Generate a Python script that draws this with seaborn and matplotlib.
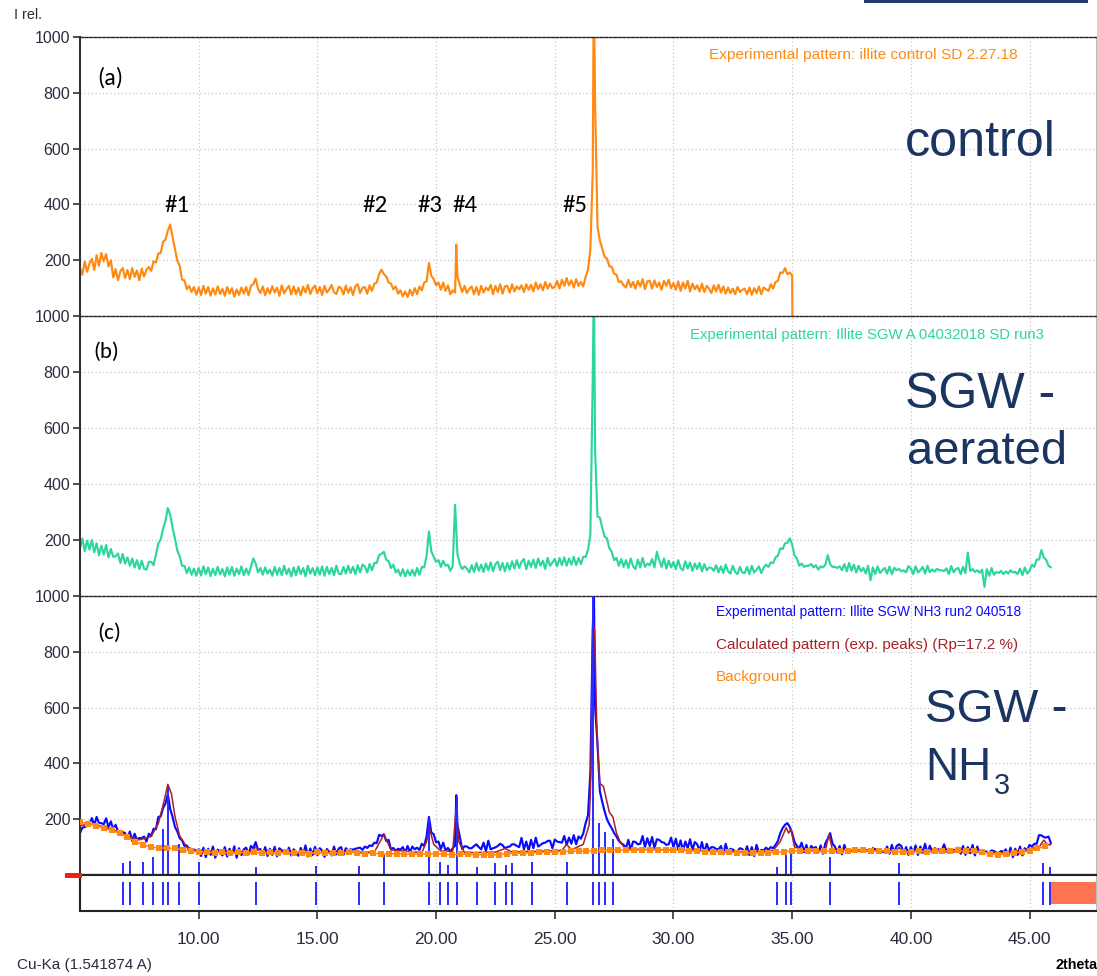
import numpy as np
import pandas as pd
import matplotlib
matplotlib.use("Agg")
import matplotlib.pyplot as plt
from matplotlib import font_manager as fm
from matplotlib.patches import Rectangle
import seaborn as sns

# ---------------- data ----------------
x_ticks = [10, 15, 20, 25, 30, 35, 40, 45]
x_tick_labels = ["10.00", "15.00", "20.00", "25.00", "30.00", "35.00", "40.00", "45.00"]
y_ticks = [200, 400, 600, 800, 1000]

# (a) control, sampled every 0.1 deg from 5.0 to 35.0
a_int = [
    172,148,195,158,188,205,165,218,180,226,
    196,222,178,200,138,168,128,160,172,136,
    165,132,172,140,163,128,170,142,166,176,
    162,196,192,224,226,266,274,306,328,282,
    240,198,180,130,128,96,108,86,104,76,
    102,75,108,80,104,73,99,77,106,79,
    97,72,104,80,100,69,95,76,102,80,
    104,74,108,114,134,98,82,106,74,100,
    80,107,84,102,72,110,81,97,108,77,
    106,78,101,74,105,84,112,79,99,109,
    81,104,75,108,84,96,111,85,79,105,
    100,77,109,83,103,75,107,114,82,101,
    104,80,110,90,116,120,150,166,150,142,
    120,116,96,106,80,92,70,88,68,94,
    74,100,78,106,92,120,124,190,144,132,
    110,120,94,120,90,110,78,92,84,140,
    112,86,108,82,98,106,78,104,76,108,
    84,102,92,112,78,108,86,114,80,106,
    108,84,114,88,106,96,110,86,114,94,
    112,88,120,96,114,92,122,98,116,100,
    104,126,98,130,108,136,110,128,102,132,
    108,122,106,140,166,238,520,760,320,270,
    242,212,206,178,176,152,148,122,124,110,
    102,130,104,122,98,126,106,132,96,124,
    126,98,128,104,120,94,126,108,130,100,
    118,94,124,90,120,98,126,88,116,96,
    110,88,116,86,108,98,82,110,88,112,
    84,106,80,102,82,98,78,104,86,94,
    98,78,102,76,100,82,106,78,102,96,
    90,114,98,122,126,156,154,172,150,156,
    145,
]
a_peak_x = [20.85, 26.63, 26.67, 35.01]
a_peak_y = [256, 1000, 1000, 0]

# (b) SGW aerated, every 0.1 deg from 5.0 to 45.9
b_int = [
    170,205,160,198,166,200,156,188,145,180,
    148,182,138,168,140,142,152,118,150,116,
    138,108,134,102,128,96,126,98,94,122,
    122,110,148,188,202,240,268,314,290,244,
    205,162,142,108,108,82,102,76,98,72,
    100,73,106,78,102,71,97,75,104,77,
    96,70,102,76,104,72,98,78,106,74,
    98,76,104,134,116,84,100,76,102,80,
    94,72,104,76,100,74,108,78,98,70,
    102,74,106,78,100,70,108,80,100,74,
    102,76,106,72,104,78,100,74,108,80,
    78,104,80,108,82,104,78,110,84,112,
    106,84,114,92,118,118,146,150,158,130,
    124,100,112,84,94,72,96,70,92,74,
    94,72,100,76,104,102,144,230,160,140,
    122,128,104,126,108,112,90,106,326,150,
    114,96,106,98,84,110,86,118,90,112,
    86,116,92,120,88,114,122,92,118,88,
    118,94,124,98,128,100,122,132,96,126,
    104,130,100,134,108,126,96,136,108,120,
    132,106,136,110,138,108,134,112,140,110,
    136,114,140,140,164,220,780,520,284,280,
    244,212,206,170,158,128,136,108,132,104,
    128,100,134,106,96,130,102,136,104,116,
    110,132,102,158,128,104,134,98,126,102,
    122,96,128,100,92,124,98,120,90,116,
    96,118,88,114,92,102,100,90,110,84,
    106,82,112,88,80,108,86,78,104,84,
    82,104,78,108,84,94,106,82,102,112,
    104,120,118,138,144,170,168,188,190,206,
    184,144,134,108,116,104,108,108,114,102,
    110,94,106,102,112,146,114,104,104,100,
    106,92,114,88,118,90,112,84,108,88,
    100,80,108,56,102,78,106,82,92,100,
    80,105,78,101,92,97,88,92,84,107,
    98,78,106,84,92,104,80,108,85,95,
    87,97,92,92,89,99,78,107,85,96,
    100,78,104,82,155,90,96,86,92,83,
    94,32,96,72,100,76,86,82,90,78,
    88,80,92,84,86,78,98,74,102,80,
    90,112,104,130,130,164,138,129,108,102,
]
b_peak_x = [26.63, 26.66]
b_peak_y = [1000, 1000]

# (c) SGW NH3 experimental, every 0.1 deg from 5.0 to 45.9
c_int = [
    150,170,172,176,184,204,178,208,186,186,
    182,203,172,192,164,180,156,158,154,150,
    130,156,122,148,126,133,132,138,120,148,
    140,166,164,208,210,240,256,290,236,208,
    172,156,132,124,104,106,88,92,91,86,
    92,68,98,64,94,72,102,62,91,80,
    70,100,66,94,73,103,62,96,71,92,
    98,74,104,96,118,90,93,71,100,68,
    94,72,101,67,96,88,80,77,98,70,
    92,84,69,97,74,106,66,95,72,101,
    71,96,88,65,93,82,70,102,74,95,
    100,72,96,88,92,91,94,96,98,90,
    102,97,106,104,116,114,144,140,146,122,
    126,92,97,87,94,91,100,80,104,82,
    102,92,98,90,112,104,138,208,152,146,
    117,120,93,116,88,97,84,96,105,180,
    137,93,103,102,96,96,104,110,100,92,
    116,86,123,92,96,99,104,112,107,96,
    100,102,110,110,104,100,133,92,120,87,
    126,96,134,102,108,114,116,122,123,96,
    127,120,118,116,140,108,134,112,143,110,
    138,130,149,186,214,369,880,600,470,300,
    262,228,200,182,168,150,138,122,114,108,
    96,126,90,120,118,110,112,140,100,132,
    104,136,97,128,126,118,116,108,110,134,
    100,130,92,124,88,120,96,128,90,118,
    110,87,118,80,112,90,100,99,93,92,
    104,74,112,82,94,91,86,85,96,93,
    76,103,72,100,68,108,80,90,88,98,
    90,100,96,108,122,150,168,180,186,172,
    150,118,104,95,116,82,108,78,104,96,
    100,80,106,76,114,130,150,112,102,80,
    104,74,108,82,86,86,94,94,88,84,
    93,90,86,84,96,92,90,87,84,82,
    102,76,108,80,104,110,104,78,100,72,
    100,78,106,72,102,80,112,76,105,82,
    96,92,92,88,110,84,94,90,90,87,
    98,76,104,72,100,78,108,70,102,80,
    90,84,84,80,88,86,80,78,86,82,
    92,68,98,64,94,72,102,70,96,88,
    108,102,112,112,143,142,136,134,138,114,
]
c_peak_x = [20.85, 26.65]
c_peak_y = [286, 1000]

# (c) calculated pattern
calc_x = [5.0,5.5,6.0,6.5,7.0,7.5,8.0,8.3,8.5,8.7,8.85,9.0,9.2,9.5,10.0,11.0,12.2,12.4,12.6,14.0,
          17.4,17.8,18.1,19.4,19.6,19.72,19.9,20.2,20.7,20.85,20.95,21.2,22.5,22.9,23.2,25.3,25.5,25.7,
          26.2,26.45,26.52,26.6,26.68,26.78,26.9,27.05,27.15,27.3,27.45,27.6,27.75,27.95,28.5,30.0,33.0,
          34.2,34.5,34.75,34.85,34.95,35.1,35.5,36.4,36.55,36.7,39.4,39.5,39.6,44.0,45.4,45.6,45.75,45.9]
calc_y = [178,182,172,158,140,126,138,185,250,325,292,210,140,100,86,82,85,100,84,80,
          82,145,90,80,120,168,110,86,85,244,120,80,82,95,82,88,110,90,
          110,180,350,893,880,493,328,318,280,225,208,150,120,95,92,90,82,
          88,120,170,150,165,100,88,88,145,90,85,100,86,80,100,125,110,108]

# (c) background, every 1/3 deg from 5.0 to 45.67
bg_int = [
    190,184,177, 168,160,150, 136,120,108, 100,97,96, 95,90,86,
    83,81,80, 81,79,82, 79,81,78, 81,78,82, 78,80,77,
    81,78,79, 79,82,79, 77,78,76, 75,77,74, 75,74,76,
    76,74,73, 74,75,72, 73,71,73, 76,78,79, 80,81,82,
    83,84,85, 86,86,87, 88,88,89, 89,89,90, 91,90,89,
    89,88,86, 86,84,84, 83,82,80, 80,78,80, 79,82,84,
    86,86,86, 85,85,86, 87,87,88, 88,86,87, 86,84,83,
    83,85,84, 85,87,86, 88,86,85, 82,77,73, 75,79,83,
    86,95,104,
]

# reference peak positions and intensities
stick_pos = [6.81,7.11,7.65,8.07,8.50,8.71,9.17,10.01,12.41,14.94,16.75,17.81,19.71,20.18,20.49,20.88,
             21.71,22.48,22.96,23.20,24.04,25.50,26.62,26.86,27.13,27.46,34.35,34.75,34.94,36.59,39.50,
             45.56,45.86]
stick_int = [43,50,46,64,164,314,110,46,28,32,32,71,206,48,36,280,
             27,42,35,42,48,48,1000,185,155,130,28,89,95,65,43,
             43,30]

# ---------------- styling ----------------
ORANGE = "#ff8a12"
GREEN = "#2dd69b"
BLUE = "#0a0aff"
RED = "#a8202a"
NAVY = "#1a3562"
STICK = "#2a2aff"
TICKC = "#2b2b40"

sns.set_theme(style="white")
names = {f.name for f in fm.fontManager.ttflist}
NARROW = "Liberation Sans Narrow" if "Liberation Sans Narrow" in names else "Liberation Sans"
CAL = "Carlito" if "Carlito" in names else "Lato"
plt.rcParams["font.family"] = ["Liberation Sans", "DejaVu Sans"]

W, H = 1097, 976
fig = plt.figure(figsize=(W / 100, H / 100), dpi=100)
fig.patch.set_facecolor("white")
renderer = fig.canvas.get_renderer()


def rect(l, t, r, b):
    return [l / W, 1 - b / H, (r - l) / W, (b - t) / H]


def put(s, x, y, width=None, size=12, ha="left", va="center", **kw):
    t = fig.text(x / W, 1 - y / H, s, ha=ha, va=va, fontsize=size, **kw)
    if width:
        bb = t.get_window_extent(renderer=renderer)
        t.set_fontsize(size * width / bb.width)
    return t


def series(xs, ys, px=None, py=None):
    x = np.asarray(xs, float)
    y = np.asarray(ys, float)
    if px is not None:
        x = np.concatenate([x, px])
        y = np.concatenate([y, py])
        o = np.argsort(x, kind="stable")
        x, y = x[o], y[o]
    return pd.DataFrame({"two_theta": x, "I": y})


XMIN, XMAX = 5.0, 47.8


def style_panel(ax, bottom_solid=False):
    ax.set_xlim(XMIN, XMAX)
    ax.set_ylim(0, 1000)
    ax.set_facecolor("white")
    ax.set_xticks(x_ticks)
    ax.set_xticklabels([])
    ax.set_yticks(y_ticks)
    ax.set_yticklabels([str(v) for v in y_ticks])
    ax.tick_params(axis="x", length=0, bottom=False)
    ax.tick_params(axis="y", left=True, direction="out", length=5, width=1.2, color="#333333",
                   labelsize=11.5, labelcolor=TICKC, pad=2)
    for lb in ax.get_yticklabels():
        lb.set_fontfamily(NARROW)
    ax.grid(True, color="#c9c9c9", linestyle=(0, (1, 2)), linewidth=0.9)
    ax.set_xlabel("")
    ax.set_ylabel("")
    ax.spines["left"].set_color("#333333")
    ax.spines["left"].set_linewidth(1.5)
    ax.spines["top"].set_color("#222222")
    ax.spines["top"].set_linestyle((0, (2, 1.2)))
    ax.spines["top"].set_linewidth(1.0)
    ax.spines["right"].set_color("#bdbdbd")
    ax.spines["right"].set_linewidth(0.8)
    if bottom_solid:
        ax.spines["bottom"].set_color("#222222")
        ax.spines["bottom"].set_linewidth(1.6)
    else:
        ax.spines["bottom"].set_visible(False)


ax_a = fig.add_axes(rect(80, 37, 1096, 316))
ax_b = fig.add_axes(rect(80, 316, 1096, 596))
ax_c = fig.add_axes(rect(80, 596, 1096, 875))
ax_s = fig.add_axes(rect(80, 875, 1096, 911))

x_a = np.round(np.arange(5.0, 35.05, 0.1), 2)
x_bc = np.round(np.arange(5.0, 45.95, 0.1), 2)
x_bg = np.round(5.0 + np.arange(len(bg_int)) / 3.0, 3)

df_a = series(x_a, a_int, a_peak_x, a_peak_y)
df_b = series(x_bc, b_int, b_peak_x, b_peak_y)
df_c = series(x_bc, c_int, c_peak_x, c_peak_y)
df_calc = series(calc_x, calc_y)
df_bg = series(x_bg, bg_int)

LW = 1.55
sns.lineplot(data=df_a, x="two_theta", y="I", ax=ax_a, color=ORANGE, lw=LW,
             estimator=None, sort=False)
sns.lineplot(data=df_b, x="two_theta", y="I", ax=ax_b, color=GREEN, lw=LW,
             estimator=None, sort=False)
sns.lineplot(data=df_c, x="two_theta", y="I", ax=ax_c, color=BLUE, lw=LW,
             estimator=None, sort=False)
sns.lineplot(data=df_calc, x="two_theta", y="I", ax=ax_c, color=RED, lw=1.1,
             estimator=None, sort=False)
ax_c.vlines(stick_pos, 0, stick_int, color=STICK, lw=1.4, zorder=3)
sns.lineplot(data=df_bg, x="two_theta", y="I", ax=ax_c, color=ORANGE, lw=1.1,
             marker="s", markersize=4.6, markeredgewidth=0, estimator=None, sort=False, zorder=4)

style_panel(ax_a)
style_panel(ax_b)
style_panel(ax_c, bottom_solid=True)

# strip with reference positions
ax_s.set_xlim(XMIN, XMAX)
ax_s.set_ylim(0, 1)
ax_s.vlines(stick_pos, 0.17, 0.81, color=STICK, lw=1.4)
ax_s.add_patch(Rectangle((45.86, 0.19), XMAX - 45.86, 0.62, color="#ff7252", lw=0))
ax_s.set_yticks([])
ax_s.set_xticks(x_ticks)
ax_s.set_xticklabels(x_tick_labels)
ax_s.tick_params(axis="x", bottom=True, direction="out", length=6, width=1.2, color="#333333",
                 labelsize=12.5, labelcolor=TICKC, pad=9)
for lb in ax_s.get_xticklabels():
    lb.set_fontfamily(NARROW)
ax_s.grid(True, axis="x", color="#c9c9c9", linestyle=(0, (1, 2)), linewidth=0.9)
ax_s.set_xlabel("")
ax_s.set_ylabel("")
for side in ["left", "bottom", "top"]:
    ax_s.spines[side].set_color("#222222")
    ax_s.spines[side].set_linewidth(1.5)
ax_s.spines["right"].set_color("#bdbdbd")
ax_s.spines["right"].set_linewidth(0.8)

# small red marker left of panel (c) zero line
fig.add_artist(Rectangle((65 / W, 1 - 878 / H), 17 / W, 5 / H, transform=fig.transFigure,
                         color="#ff1a1a", lw=0))
# navy bar at top right
fig.add_artist(Rectangle((864 / W, 1 - 3 / H), 224 / W, 3 / H, transform=fig.transFigure,
                         color="#1f3a6e", lw=0))

# legend-like texts
put("Experimental pattern: illite control SD 2.27.18", 709, 55, width=308, color=ORANGE, family=NARROW)
put("Experimental pattern: Illite SGW A 04032018 SD run3", 690, 335, width=353, color=GREEN, family=NARROW)
put("Experimental pattern: Illite SGW NH3 run2 040518", 716, 612, width=306, color=BLUE, family=NARROW)
put("Calculated pattern (exp. peaks) (Rp=17.2 %)", 716, 645, width=304, color=RED, family=NARROW)
put("Background", 716, 677, width=82, color=ORANGE, family=NARROW)

# panel labels and peak labels
put("(a)", 97, 78, width=26, color="black", family=CAL)
put("(b)", 93, 352, width=26, color="black", family=CAL)
put("(c)", 97, 633, width=24, color="black", family=CAL)
for lab, xp in zip(["#1", "#2", "#3", "#4", "#5"], [177, 375, 430, 465, 575]):
    put(lab, xp, 205, width=25, ha="center", color="black", family=CAL)

# big condition labels
put("control", 905, 143, width=152, color=NAVY)
put("SGW -", 905, 395, width=150, color=NAVY)
put("aerated", 907, 452, width=161, color=NAVY)
put("SGW -", 925, 710, width=142, color=NAVY)
put("NH", 925, 768, width=66, color=NAVY)
put("3", 994, 786, width=16, color=NAVY)

# axis texts
put("I rel.", 14, 15, width=28, color=TICKC, family=NARROW)
put("Cu-Ka (1.541874 A)", 17, 965, width=135, color=TICKC, family=NARROW)
put("2theta", 1055, 965, width=42, color="black", family=NARROW, fontweight="bold")

fig.savefig("out.png", dpi=100, facecolor="white")
